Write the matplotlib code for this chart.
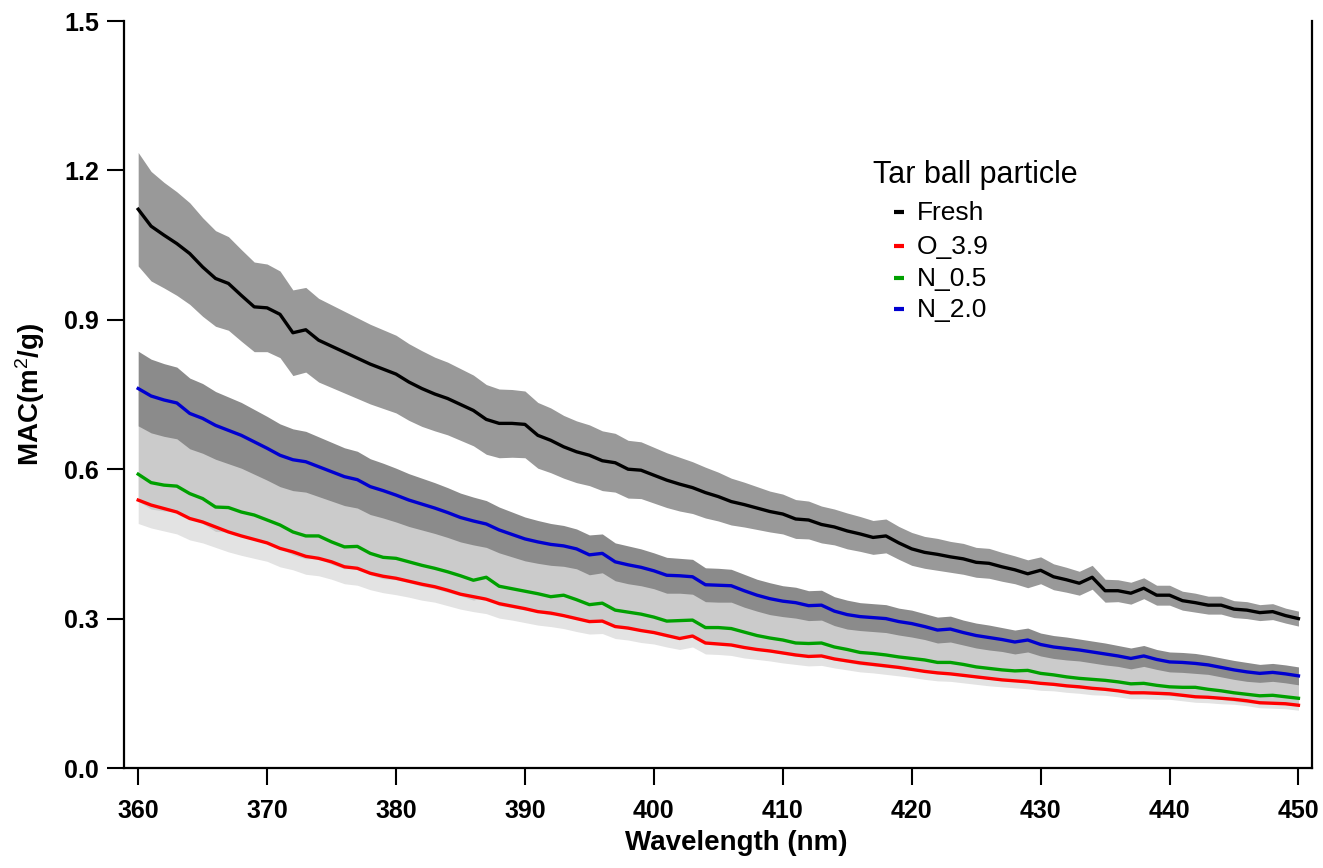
import numpy as np
import matplotlib
matplotlib.use("Agg")
import matplotlib.pyplot as plt
from matplotlib.lines import Line2D

plt.rcParams['font.family'] = ['Liberation Sans', 'DejaVu Sans']
plt.rcParams['mathtext.fontset'] = 'custom'
plt.rcParams['mathtext.rm'] = 'Liberation Sans'
plt.rcParams['mathtext.default'] = 'rm'

wavelength = list(range(360, 451))

fresh = [1.122, 1.088, 1.070, 1.053, 1.033, 1.006, 0.983, 0.973, 0.949, 0.926,
         0.924, 0.911, 0.874, 0.880, 0.859, 0.847, 0.835, 0.823, 0.811, 0.801,
         0.791, 0.775, 0.762, 0.751, 0.742, 0.730, 0.718, 0.700, 0.692, 0.692,
         0.690, 0.668, 0.658, 0.645, 0.635, 0.628, 0.617, 0.613, 0.600, 0.598,
         0.588, 0.578, 0.570, 0.563, 0.553, 0.545, 0.535, 0.529, 0.522, 0.515,
         0.510, 0.500, 0.498, 0.489, 0.484, 0.476, 0.470, 0.463, 0.466, 0.452,
         0.440, 0.433, 0.429, 0.424, 0.420, 0.413, 0.411, 0.404, 0.398, 0.390,
         0.397, 0.384, 0.378, 0.371, 0.383, 0.356, 0.356, 0.351, 0.361, 0.347,
         0.347, 0.336, 0.332, 0.327, 0.327, 0.319, 0.317, 0.312, 0.314, 0.306,
         0.300]

n_2_0 = [0.762, 0.747, 0.739, 0.733, 0.712, 0.702, 0.688, 0.678, 0.668, 0.655,
         0.642, 0.628, 0.619, 0.615, 0.605, 0.595, 0.585, 0.579, 0.565, 0.557,
         0.548, 0.538, 0.530, 0.522, 0.513, 0.503, 0.496, 0.490, 0.478, 0.469,
         0.460, 0.454, 0.449, 0.446, 0.440, 0.428, 0.431, 0.414, 0.408, 0.403,
         0.396, 0.387, 0.386, 0.384, 0.368, 0.367, 0.366, 0.356, 0.347, 0.340,
         0.335, 0.332, 0.326, 0.327, 0.315, 0.308, 0.304, 0.302, 0.300, 0.294,
         0.290, 0.284, 0.277, 0.279, 0.272, 0.266, 0.262, 0.258, 0.253, 0.257,
         0.248, 0.243, 0.240, 0.237, 0.233, 0.229, 0.225, 0.220, 0.225, 0.218,
         0.213, 0.212, 0.210, 0.207, 0.202, 0.197, 0.193, 0.190, 0.192, 0.189,
         0.185]

n_0_5 = [0.590, 0.573, 0.568, 0.566, 0.551, 0.541, 0.524, 0.523, 0.514, 0.508,
         0.498, 0.488, 0.474, 0.466, 0.466, 0.454, 0.444, 0.445, 0.431, 0.423,
         0.421, 0.414, 0.407, 0.401, 0.394, 0.386, 0.377, 0.383, 0.365, 0.360,
         0.355, 0.350, 0.344, 0.347, 0.338, 0.328, 0.331, 0.317, 0.313, 0.309,
         0.303, 0.295, 0.296, 0.297, 0.282, 0.282, 0.280, 0.273, 0.266, 0.261,
         0.257, 0.251, 0.250, 0.251, 0.243, 0.238, 0.232, 0.230, 0.227, 0.223,
         0.220, 0.217, 0.212, 0.212, 0.208, 0.203, 0.200, 0.197, 0.195, 0.196,
         0.190, 0.187, 0.183, 0.180, 0.178, 0.176, 0.173, 0.169, 0.170, 0.166,
         0.163, 0.162, 0.162, 0.158, 0.155, 0.151, 0.148, 0.145, 0.146, 0.143,
         0.140]

o_3_9 = [0.538, 0.528, 0.521, 0.514, 0.501, 0.494, 0.484, 0.474, 0.466, 0.459,
         0.452, 0.441, 0.434, 0.425, 0.421, 0.414, 0.404, 0.401, 0.391, 0.385,
         0.381, 0.375, 0.369, 0.364, 0.357, 0.349, 0.344, 0.339, 0.330, 0.325,
         0.320, 0.314, 0.311, 0.306, 0.300, 0.294, 0.295, 0.284, 0.281, 0.276,
         0.272, 0.266, 0.260, 0.265, 0.251, 0.249, 0.247, 0.242, 0.238, 0.235,
         0.231, 0.227, 0.224, 0.225, 0.219, 0.215, 0.211, 0.208, 0.205, 0.202,
         0.198, 0.194, 0.191, 0.189, 0.186, 0.183, 0.180, 0.177, 0.175, 0.173,
         0.170, 0.168, 0.165, 0.163, 0.160, 0.158, 0.155, 0.151, 0.151, 0.150,
         0.149, 0.146, 0.143, 0.142, 0.140, 0.138, 0.135, 0.131, 0.130, 0.129,
         0.126]

fresh_err = [0.114, 0.110, 0.106, 0.104, 0.102, 0.099, 0.096, 0.094, 0.092, 0.090,
             0.088, 0.087, 0.086, 0.085, 0.084, 0.083, 0.082, 0.081, 0.080, 0.079,
             0.078, 0.077, 0.076, 0.074, 0.073, 0.072, 0.071, 0.070, 0.069, 0.068,
             0.067, 0.066, 0.065, 0.063, 0.062, 0.061, 0.060, 0.059, 0.058, 0.057,
             0.056, 0.055, 0.054, 0.052, 0.051, 0.049, 0.047, 0.045, 0.043, 0.041,
             0.040, 0.039, 0.038, 0.037, 0.036, 0.036, 0.035, 0.034, 0.034, 0.033,
             0.033, 0.032, 0.032, 0.031, 0.031, 0.030, 0.030, 0.029, 0.028, 0.028,
             0.027, 0.026, 0.025, 0.024, 0.024, 0.023, 0.022, 0.022, 0.021, 0.020,
             0.020, 0.019, 0.019, 0.018, 0.018, 0.017, 0.017, 0.016, 0.016, 0.015,
             0.015]

n_2_0_err = [0.075, 0.074, 0.073, 0.072, 0.071, 0.070, 0.068, 0.067, 0.066, 0.065,
             0.064, 0.063, 0.062, 0.061, 0.060, 0.059, 0.058, 0.057, 0.056, 0.055,
             0.054, 0.053, 0.052, 0.051, 0.050, 0.049, 0.048, 0.047, 0.046, 0.045,
             0.044, 0.043, 0.042, 0.041, 0.040, 0.040, 0.039, 0.038, 0.038, 0.037,
             0.036, 0.036, 0.035, 0.035, 0.034, 0.034, 0.033, 0.033, 0.032, 0.032,
             0.031, 0.031, 0.030, 0.030, 0.029, 0.029, 0.028, 0.028, 0.028, 0.027,
             0.027, 0.026, 0.026, 0.026, 0.025, 0.025, 0.025, 0.024, 0.024, 0.024,
             0.023, 0.023, 0.023, 0.022, 0.022, 0.022, 0.021, 0.021, 0.021, 0.020,
             0.020, 0.020, 0.020, 0.019, 0.019, 0.019, 0.019, 0.018, 0.018, 0.018,
             0.018]

n_0_5_err_up = [0.170, 0.168, 0.165, 0.162, 0.159, 0.156, 0.153, 0.150, 0.147, 0.144,
                0.142, 0.140, 0.138, 0.136, 0.134, 0.132, 0.130, 0.128, 0.127, 0.126,
                0.125, 0.122, 0.120, 0.118, 0.116, 0.114, 0.112, 0.110, 0.108, 0.106,
                0.105, 0.104, 0.102, 0.100, 0.099, 0.098, 0.097, 0.096, 0.095, 0.094,
                0.093, 0.091, 0.090, 0.088, 0.087, 0.085, 0.084, 0.082, 0.081, 0.079,
                0.078, 0.077, 0.076, 0.075, 0.074, 0.073, 0.072, 0.072, 0.071, 0.071,
                0.070, 0.069, 0.068, 0.067, 0.066, 0.065, 0.064, 0.062, 0.061, 0.059,
                0.058, 0.057, 0.056, 0.056, 0.055, 0.054, 0.053, 0.052, 0.052, 0.051,
                0.050, 0.050, 0.049, 0.049, 0.048, 0.047, 0.047, 0.046, 0.046, 0.045,
                0.045]

n_0_5_err_dn = [0.054, 0.053, 0.052, 0.051, 0.050, 0.050, 0.049, 0.049, 0.048, 0.048,
                0.047, 0.047, 0.046, 0.046, 0.045, 0.045, 0.044, 0.044, 0.043, 0.043,
                0.043, 0.042, 0.042, 0.041, 0.041, 0.040, 0.040, 0.039, 0.039, 0.038,
                0.038, 0.037, 0.037, 0.036, 0.036, 0.035, 0.035, 0.034, 0.034, 0.033,
                0.033, 0.032, 0.032, 0.031, 0.031, 0.030, 0.030, 0.029, 0.029, 0.028,
                0.028, 0.027, 0.027, 0.026, 0.026, 0.026, 0.025, 0.025, 0.025, 0.024,
                0.024, 0.024, 0.023, 0.023, 0.023, 0.022, 0.022, 0.022, 0.021, 0.021,
                0.021, 0.021, 0.020, 0.020, 0.020, 0.019, 0.019, 0.019, 0.019, 0.018,
                0.018, 0.018, 0.018, 0.017, 0.017, 0.017, 0.017, 0.016, 0.016, 0.016,
                0.016]

o_3_9_err = [0.047, 0.046, 0.045, 0.044, 0.043, 0.042, 0.041, 0.040, 0.039, 0.038,
             0.037, 0.037, 0.036, 0.036, 0.035, 0.035, 0.034, 0.034, 0.033, 0.033,
             0.033, 0.032, 0.032, 0.031, 0.031, 0.030, 0.030, 0.029, 0.029, 0.028,
             0.028, 0.027, 0.027, 0.026, 0.026, 0.025, 0.025, 0.024, 0.024, 0.024,
             0.023, 0.023, 0.022, 0.022, 0.022, 0.021, 0.021, 0.021, 0.020, 0.020,
             0.020, 0.019, 0.019, 0.019, 0.018, 0.018, 0.018, 0.017, 0.017, 0.017,
             0.016, 0.016, 0.016, 0.015, 0.015, 0.015, 0.015, 0.014, 0.014, 0.014,
             0.014, 0.013, 0.013, 0.013, 0.013, 0.012, 0.012, 0.012, 0.012, 0.012,
             0.011, 0.011, 0.011, 0.011, 0.011, 0.010, 0.010, 0.010, 0.010, 0.010,
             0.010]

series_labels = ["Fresh", "O_3.9", "N_0.5", "N_2.0"]
series_colors = ["#000000", "#ff0000", "#00a000", "#0000d0"]
legend_title = "Tar ball particle"
x_ticks = [360, 370, 380, 390, 400, 410, 420, 430, 440, 450]
y_ticks = [0.0, 0.3, 0.6, 0.9, 1.2, 1.5]

W, H = 1323, 868
fig = plt.figure(figsize=(W / 100, H / 100), dpi=100)
ax = fig.add_axes([124 / W, 1 - 768 / H, (1312 - 124) / W, (768 - 21) / H])

x = np.array(wavelength)
fr = np.array(fresh); n20 = np.array(n_2_0); n05 = np.array(n_0_5); o39 = np.array(o_3_9)

ax.fill_between(x, o39 - np.array(o_3_9_err), o39 + np.array(o_3_9_err),
                color="#e3e3e3", lw=0, zorder=1)
ax.fill_between(x, n05 - np.array(n_0_5_err_dn), n05 + np.array(n_0_5_err_up),
                color="#cbcbcb", lw=0, zorder=2)
ax.fill_between(x, n20 - np.array(n_2_0_err), n20 + np.array(n_2_0_err),
                color="#8b8b8b", lw=0, zorder=3)
ax.fill_between(x, fr - np.array(fresh_err), fr + np.array(fresh_err),
                color="#999999", lw=0, zorder=3)

lw = 2.4
ax.plot(x, o39, color=series_colors[1], lw=lw, zorder=5)
ax.plot(x, n05, color=series_colors[2], lw=lw, zorder=5)
ax.plot(x, n20, color=series_colors[3], lw=lw, zorder=5)
ax.plot(x, fr, color=series_colors[0], lw=lw, zorder=6)

ax.set_xlim(358.9, 451.05)
ax.set_ylim(0, 1.5)
ax.set_xticks(x_ticks)
ax.set_yticks(y_ticks)
ax.set_yticklabels([f"{v:.1f}" for v in y_ticks])
ax.tick_params(axis="both", direction="out", length=12, width=1.5,
               labelsize=18)
ax.tick_params(axis="x", pad=10)
ax.tick_params(axis="y", pad=6)
for lab in ax.get_xticklabels() + ax.get_yticklabels():
    lab.set_fontweight("bold")
ax.spines["top"].set_visible(False)
for s in ["left", "bottom", "right"]:
    ax.spines[s].set_linewidth(1.6)

ax.set_xlabel("Wavelength (nm)", fontsize=20, fontweight="bold")
ax.xaxis.set_label_coords((736 - 124) / 1188, -(830 - 768) / 747)
ax.set_ylabel(r"MAC(m$^{2}$/g)", fontsize=20, fontweight="bold")
ax.yaxis.set_label_coords(-(124 - 47) / 1188, 0.5)

# legend drawn manually
fig.text(873 / W, 1 - 183 / H, legend_title, fontsize=22, va="baseline", ha="left")
baselines = [220, 254, 286, 317]
for lab, col, b in zip(series_labels, series_colors, baselines):
    fig.text(917 / W, 1 - b / H, lab, fontsize=19, va="baseline", ha="left")
    yy = 1 - (b - 8.5) / H
    fig.add_artist(Line2D([894 / W, 904 / W], [yy, yy], color=col, lw=3,
                          transform=fig.transFigure, solid_capstyle="butt"))

fig.savefig("out.png", dpi=100)
